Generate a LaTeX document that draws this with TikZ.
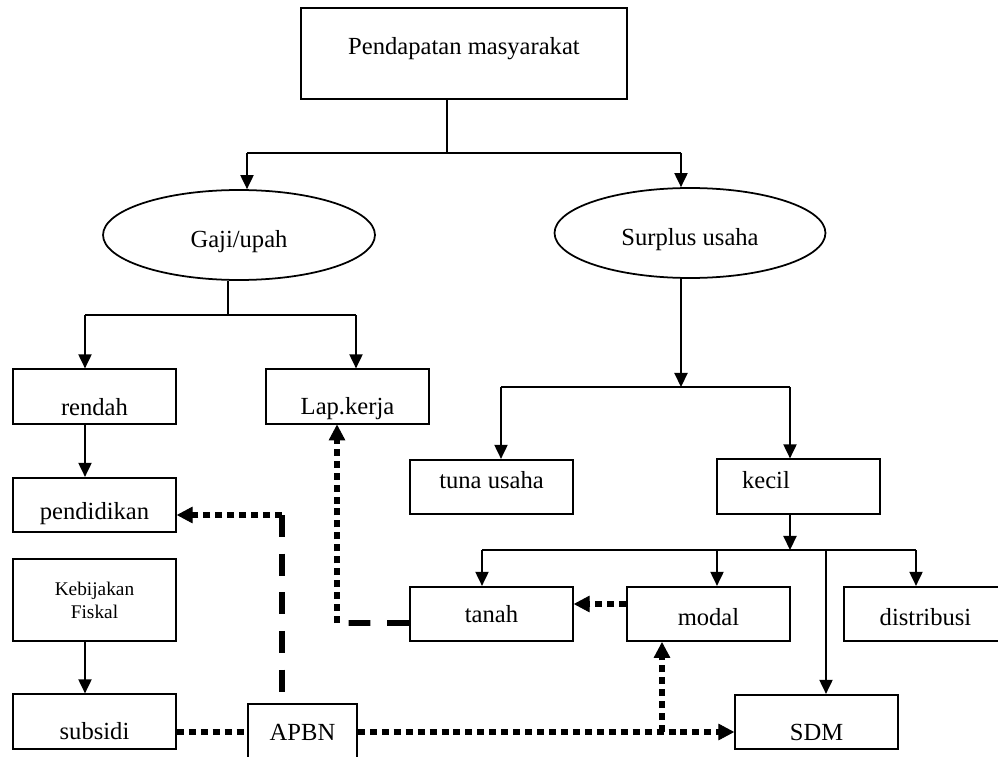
\documentclass[tikz,border=0pt]{standalone}
\usepackage{fontspec}
\setmainfont{Liberation Serif}
\usetikzlibrary{arrows.meta,shapes.geometric}

\newcommand{\raisetxt}[2]{\raisebox{#1}[\height][\depth]{#2}}

\begin{document}
\begin{tikzpicture}[x=0.02cm, y=-0.02cm,
    font=\fontsize{14}{16}\selectfont,
    box/.style={draw, line width=1pt, minimum width=3.26cm, minimum height=1.09cm, inner sep=0pt},
    oval/.style={draw, ellipse, line width=1pt, minimum width=5.44cm, minimum height=1.8cm, inner sep=0pt},
    ln/.style={line width=0.9pt},
    arr/.style={line width=0.9pt, -{Triangle[length=8pt,width=7.5pt]}},
    dots/.style={line width=3.4pt, dash pattern=on 4pt off 2.8pt},
    dashes/.style={line width=3.4pt, dash pattern=on 12.5pt off 9.5pt},
    darr/.style={dots, -{Triangle[length=9pt,width=9.5pt,line width=0.5pt]}}]
\useasboundingbox (0,0) rectangle (998,757);

\node[box, minimum width=6.52cm, minimum height=1.82cm] (top) at (464,53.5) {\raisetxt{2.5pt}{Pendapatan masyarakat}};
\node[oval] (gaji) at (239,235) {\raisetxt{-4pt}{Gaji/upah}};
\node[oval, minimum width=5.42cm] (surplus) at (690,233) {\raisetxt{-4pt}{Surplus usaha}};

\node[box] (rendah) at (94.5,396.5) {\raisetxt{-6pt}{rendah}};
\node[box] (lapkerja) at (347.5,396.5) {\raisetxt{-7pt}{Lap.kerja}};
\node[box] (pendidikan) at (94.5,505) {\raisetxt{-5pt}{pendidikan}};
\node[box, minimum height=1.64cm, align=center, font=\fontsize{11}{13}\selectfont] (kebijakan) at (94.5,600) {Kebijakan\\Fiskal};
\node[box] (subsidi) at (94.5,721.5) {\raisetxt{-5.5pt}{subsidi}};
\node[box, minimum width=2.18cm, minimum height=1.12cm] (apbn) at (302.5,732) {APBN};

\node[box] (tuna) at (491.5,487) {\raisetxt{4pt}{tuna usaha}};
\node[box] (kecil) at (798.5,486.5) {\raisetxt{3.7pt}{kecil\hspace*{37pt}}};
\node[box] (tanah) at (491.5,614) {tanah};
\node[box] (modal) at (708.5,614) {\raisetxt{-2pt}{modal}};
\node[box] (distribusi) at (925.5,614) {\raisetxt{-2pt}{distribusi}};
\node[box] (sdm) at (816.5,722) {\raisetxt{-6pt}{SDM}};

\coordinate (t1) at (447,153);
\coordinate (t2) at (247,153);
\coordinate (t3) at (681,153);
\draw[ln] (top.south -| t1) -- (t1);
\draw[ln] (t2) -- (t3);
\draw[arr] (t2) -- (t2 |- gaji.north);
\draw[arr] (t3) -- (t3 |- surplus.north);

\coordinate (g1) at (228,315);
\coordinate (g2) at (85,315);
\coordinate (g3) at (356,315);
\draw[ln] (gaji.south -| g1) -- (g1);
\draw[ln] (g2) -- (g3);
\draw[arr] (g2) -- (g2 |- rendah.north);
\draw[arr] (g3) -- (g3 |- lapkerja.north);
\draw[arr] (g2 |- rendah.south) -- (g2 |- pendidikan.north);
\draw[arr] (g2 |- kebijakan.south) -- (g2 |- subsidi.north);

\coordinate (s0) at (681,387);
\coordinate (s1) at (501,387);
\coordinate (s2) at (790,387);
\draw[arr] (surplus.south -| s0) -- (s0);
\draw[ln] (s1) -- (s2);
\draw[arr] (s1) -- (s1 |- tuna.north);
\draw[arr] (s2) -- (s2 |- kecil.north);

\coordinate (k0) at (790,550);
\coordinate (c1) at (482,550);
\coordinate (c2) at (717,550);
\coordinate (c3) at (916,550);
\coordinate (c4) at (826,550);
\draw[arr] (kecil.south -| k0) -- (k0);
\draw[ln] (c1) -- (c3);
\foreach \c/\n in {c1/tanah, c2/modal, c3/distribusi, c4/sdm}
    \draw[arr] (\c) -- (\c |- \n.north);

\draw[darr] ([yshift=0.2cm]modal.west) -- ([yshift=0.2cm]tanah.east);
\coordinate (lk) at (337,623);
\draw[dashes] ([yshift=-0.18cm]tanah.west) -- (lk);
\draw[darr] (lk) -- (lk |- lapkerja.south);

\coordinate (ap) at (282,515);
\draw[dashes] (ap) -- (apbn.north -| ap);
\draw[darr] (ap) -- (ap -| pendidikan.east);
\draw[dots] (subsidi.east |- apbn.west) -- (apbn.west);
\draw[darr] (apbn.east) -- (apbn.east -| sdm.west);
\coordinate (am) at (662,732);
\draw[darr] (am) -- (am |- modal.south);
\end{tikzpicture}
\end{document}
